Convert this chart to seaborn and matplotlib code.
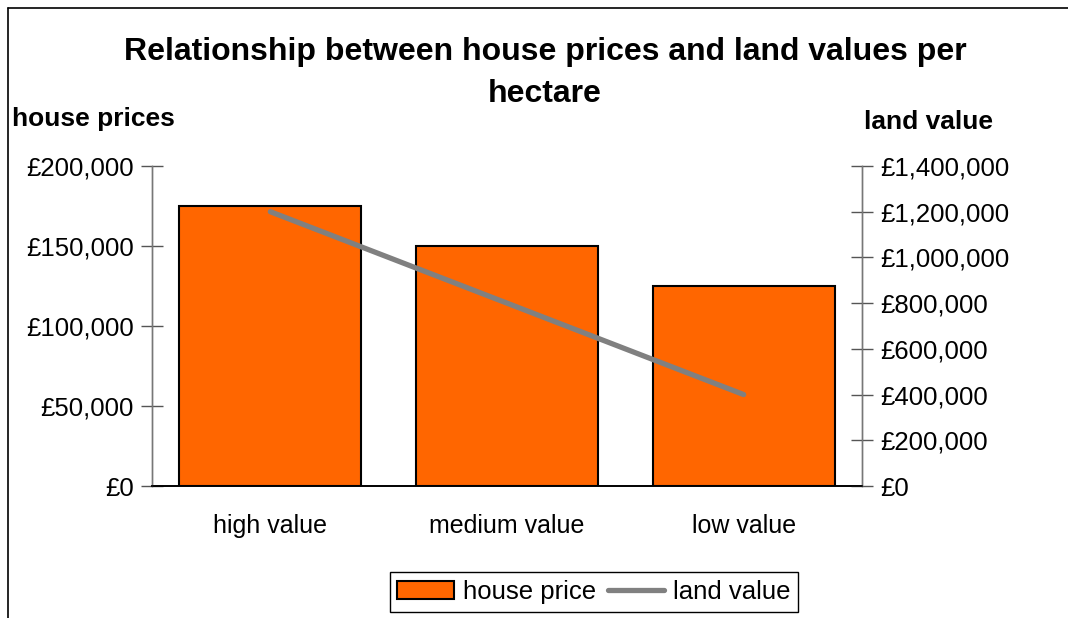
import matplotlib
matplotlib.use("Agg")
import matplotlib.pyplot as plt
from matplotlib.lines import Line2D
from matplotlib.patches import Patch
from matplotlib.ticker import FuncFormatter, FixedLocator
import seaborn as sns
import pandas as pd

# Data
categories = ["high value", "medium value", "low value"]
house_price = [175000, 150000, 125000]
land_value = [1200000, 800000, 400000]

BAR_COLOR = "#FF6600"
LINE_COLOR = "#808080"

sns.set_theme(style="white")
plt.rcParams["font.family"] = ["Liberation Sans", "DejaVu Sans"]
plt.rcParams["text.color"] = "black"
plt.rcParams["xtick.color"] = "black"
plt.rcParams["ytick.color"] = "black"

df = pd.DataFrame({"category": categories, "house price": house_price, "land value": land_value})

fig = plt.figure(figsize=(10.68, 6.18), dpi=100)
ax = fig.add_axes([152 / 1068, 1 - 486 / 618, (862 - 152) / 1068, (486 - 166) / 618])

sns.barplot(data=df, x="category", y="house price", color=BAR_COLOR, width=0.77,
            edgecolor="black", linewidth=1.5, saturation=1, ax=ax)
ax.set_xlim(-0.5, 2.5)
ax.set_ylim(0, 200000)
ax.set_yticks([0, 50000, 100000, 150000, 200000])
ax.yaxis.set_major_formatter(FuncFormatter(lambda v, p: f"£{v:,.0f}"))
ax.set_xlabel("")
ax.set_ylabel("")

# category boundaries as ticks, labels centred on the bars
ax.xaxis.set_major_locator(FixedLocator([-0.5, 0.5, 1.5, 2.5]))
ax.xaxis.set_minor_locator(FixedLocator([0, 1, 2]))
ax.set_xticklabels([])
ax.set_xticklabels(categories, minor=True)
ax.tick_params(axis="x", which="major", direction="inout", length=12, width=1, color="#555555")
ax.tick_params(axis="x", which="minor", length=0, pad=20, labelsize=18)
ax.tick_params(axis="y", direction="inout", length=16, width=1, color="#555555", labelsize=18.5, pad=5)

ax2 = ax.twinx()
sns.lineplot(x=[0, 1, 2], y=land_value, color=LINE_COLOR, linewidth=3.8, ax=ax2)
ax2.set_ylim(0, 1400000)
ax2.set_yticks(range(0, 1400001, 200000))
ax2.yaxis.set_major_formatter(FuncFormatter(lambda v, p: f"£{v:,.0f}"))
ax2.tick_params(axis="y", direction="inout", length=16, width=1, color="#555555", labelsize=18.5, pad=5)
ax2.set_xlim(-0.5, 2.5)

for a in (ax, ax2):
    a.spines["top"].set_visible(False)
    a.spines["left"].set_color("#777777")
    a.spines["right"].set_color("#777777")
    a.spines["bottom"].set_color("black")
    a.spines["left"].set_linewidth(1)
    a.spines["right"].set_linewidth(1)
    a.spines["bottom"].set_linewidth(1.2)
ax2.spines["right"].set_visible(True)

fig.text(545 / 1068, 1 - 52 / 618, "Relationship between house prices and land values per",
         ha="center", va="center", fontsize=23, fontweight="bold")
fig.text(545 / 1068, 1 - 94 / 618, "hectare", ha="center", va="center", fontsize=23, fontweight="bold")
fig.text(12 / 1068, 1 - 119 / 618, "house prices", ha="left", va="center", fontsize=19, fontweight="bold")
fig.text(928 / 1068, 1 - 122 / 618, "land value", ha="center", va="center", fontsize=19, fontweight="bold")

handles = [Patch(facecolor=BAR_COLOR, edgecolor="black", linewidth=1.5),
           Line2D([], [], color=LINE_COLOR, linewidth=3.8)]
leg = fig.legend(handles, ["house price", "land value"], loc="center", ncol=2,
                 bbox_to_anchor=(594 / 1068, 1 - 592 / 618), frameon=True, fancybox=False,
                 fontsize=18.5, handlelength=2.2, handletextpad=0.35, columnspacing=0.45,
                 borderpad=0.3, borderaxespad=0, edgecolor="black", framealpha=1)
leg.get_frame().set_linewidth(1)

# outer border (left and top only visible)
fig.add_artist(Line2D([8 / 1068, 8 / 1068], [0, 1 - 8 / 618], color="black", linewidth=1.2))
fig.add_artist(Line2D([8 / 1068, 1], [1 - 8 / 618, 1 - 8 / 618], color="black", linewidth=1.2))

fig.savefig("out.png", dpi=100)
